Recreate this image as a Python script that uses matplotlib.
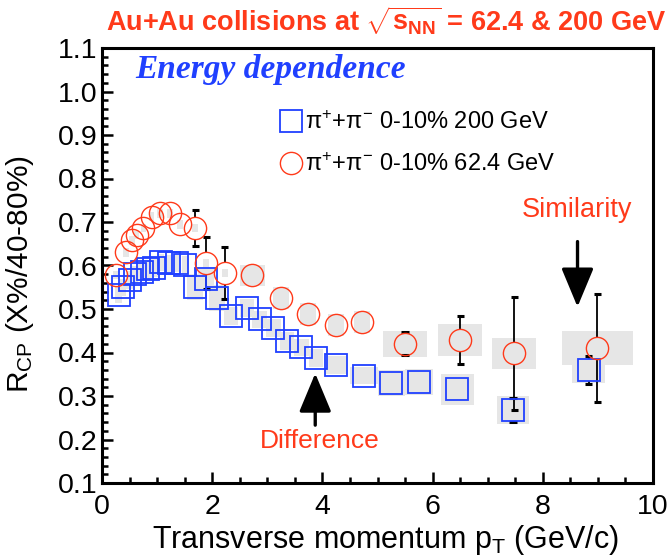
import matplotlib
matplotlib.use('Agg')
import matplotlib.pyplot as plt
from matplotlib.ticker import MultipleLocator, FormatStrFormatter
import numpy as np

plt.rcParams['font.family'] = ['Liberation Sans', 'DejaVu Sans']
plt.rcParams['mathtext.fontset'] = 'custom'
plt.rcParams['mathtext.rm'] = 'Liberation Sans'
plt.rcParams['mathtext.it'] = 'Liberation Sans:italic'
plt.rcParams['mathtext.bf'] = 'Liberation Sans:bold'

# pi+ + pi-, 0-10% / 40-80%, 200 GeV
pt_200 = [0.30, 0.38, 0.50, 0.60, 0.72, 0.84, 0.95, 1.07, 1.21, 1.36, 1.51, 1.69, 1.89, 2.09,
          2.34, 2.63, 2.86, 3.11, 3.36, 3.62, 3.88, 4.25, 4.75, 5.25, 5.75, 6.45, 7.46, 8.83]
rcp_200 = [0.533, 0.550, 0.567, 0.580, 0.585, 0.591, 0.594, 0.607, 0.605, 0.605, 0.601, 0.551, 0.568, 0.525,
           0.484, 0.502, 0.476, 0.456, 0.426, 0.412, 0.387, 0.371, 0.347, 0.329, 0.333, 0.315, 0.268, 0.360]
stat_200 = [0]*26 + [0.027, 0.033]
sys_200 = [0.02]*11 + [0.03, 0.025, 0.03, 0.02, 0.02, 0.02, 0.02, 0.02, 0.02, 0.02,
                       0.02, 0.02, 0.03, 0.03, 0.035, 0.033, 0.03]
binw_200 = [0.06]*11 + [0.15, 0.15, 0.15, 0.13, 0.13, 0.13, 0.13, 0.13, 0.13, 0.13,
                        0.2, 0.25, 0.25, 0.25, 0.3, 0.29, 0.3]

# pi+ + pi-, 0-10% / 40-80%, 62.4 GeV
pt_62 = [0.25, 0.44, 0.54, 0.63, 0.75, 0.90, 1.05, 1.23, 1.42, 1.69, 1.89, 2.23, 2.73,
         3.25, 3.74, 4.25, 4.72, 5.50, 6.50, 7.48, 8.99]
rcp_62 = [0.578, 0.630, 0.658, 0.670, 0.686, 0.712, 0.720, 0.720, 0.695, 0.686, 0.606, 0.583, 0.578,
          0.526, 0.489, 0.464, 0.470, 0.420, 0.428, 0.398, 0.410]
stat_62 = [0, 0, 0, 0, 0, 0, 0, 0, 0, 0.041, 0.060, 0.059, 0,
           0, 0, 0, 0, 0.026, 0.055, 0.130, 0.124]
sys_62 = [0.01]*12 + [0.024, 0.025, 0.025, 0.025, 0.025, 0.03, 0.037, 0.036, 0.039]
binw_62 = [0.05]*12 + [0.22, 0.15, 0.15, 0.15, 0.15, 0.4, 0.4, 0.4, 0.65]

blue = '#2040ff'
red = '#ff3a1a'
grey = '#e6e6e6'

fig = plt.figure(figsize=(6.71, 5.56), dpi=100)
ax = fig.add_axes([102/671, 1-483/556, 551/671, 435/556])

# systematic boxes
for x, y, s, w in [(pt_200, rcp_200, sys_200, binw_200), (pt_62, rcp_62, sys_62, binw_62)]:
    x = np.array(x); y = np.array(y); s = np.array(s); w = np.array(w)
    ax.bar(x, 2*s, width=2*w, bottom=y-s, color=grey, lw=0, zorder=1)

# stat errors, drawn outside of the marker like ROOT does
gap = 0.025
cap = 0.065
for x, y, e in [(pt_200, rcp_200, stat_200), (pt_62, rcp_62, stat_62)]:
    x = np.array(x); y = np.array(y); e = np.array(e)
    m = e > 0
    long = e > gap
    ax.vlines(x[long], y[long]+gap, y[long]+e[long], color='k', lw=1.3, zorder=2)
    ax.vlines(x[long], y[long]-e[long], y[long]-gap, color='k', lw=1.3, zorder=2)
    ax.hlines(y[m]+e[m], x[m]-cap, x[m]+cap, color='k', lw=2.2, zorder=2)
    ax.hlines(y[m]-e[m], x[m]-cap, x[m]+cap, color='k', lw=2.2, zorder=2)

sq, = ax.plot(pt_200, rcp_200, ls='none', marker='s', ms=16, mfc='none', mec=blue, mew=1.3,
              zorder=3, label=r'π$^{+}$+π$^{-}$ 0-10% 200 GeV')
ci, = ax.plot(pt_62, rcp_62, ls='none', marker='o', ms=16, mfc='none', mec=red, mew=1.0,
              zorder=4, label=r'π$^{+}$+π$^{-}$ 0-10% 62.4 GeV')

ax.set_xlim(0, 10)
ax.set_ylim(0.1, 1.1)
ax.xaxis.set_major_locator(MultipleLocator(2))
ax.xaxis.set_minor_locator(MultipleLocator(0.5))
ax.yaxis.set_major_locator(MultipleLocator(0.1))
ax.yaxis.set_minor_locator(MultipleLocator(0.02))
ax.yaxis.set_major_formatter(FormatStrFormatter('%.1f'))
ax.tick_params(which='both', direction='in', top=False, right=False, width=1.8)
ax.tick_params(which='major', length=8, labelsize=20.5)
ax.tick_params(axis='x', which='major', pad=8)
ax.tick_params(axis='y', which='major', pad=3)
ax.tick_params(which='minor', length=4)
for sp in ax.spines.values():
    sp.set_linewidth(2.2)

ax.set_xlabel(r'Transverse momentum p$_\mathrm{T}$ (GeV/c)', fontsize=22)
ax.set_ylabel(r'R$_\mathrm{CP}$ (X%/40-80%)', fontsize=21.5)
ax.xaxis.set_label_coords(0.514, -0.092)
ax.yaxis.set_label_coords(-0.12, 0.48)

ax.legend(handles=[sq, ci], loc='center left', bbox_to_anchor=(0.321, 0.780), frameon=False,
          fontsize=17, handlelength=1.0, handletextpad=0.1, labelspacing=0.8,
          borderpad=0, borderaxespad=0)

ax.text(0.06, 0.95, 'Energy dependence', transform=ax.transAxes, color=blue,
        fontsize=24, fontweight='bold', style='italic', family='Liberation Serif', va='center')

ax.annotate('', xy=(8.63, 0.505), xytext=(8.63, 0.655),
            arrowprops=dict(arrowstyle='-|>,head_length=1.2,head_width=0.5', lw=2.4,
                            color='k', mutation_scale=20, shrinkA=0, shrinkB=0))
ax.text(8.62, 0.728, 'Similarity', color=red, fontsize=19.5, ha='center', va='center')
ax.annotate('', xy=(3.87, 0.352), xytext=(3.87, 0.233),
            arrowprops=dict(arrowstyle='-|>,head_length=1.2,head_width=0.5', lw=2.4,
                            color='k', mutation_scale=20, shrinkA=0, shrinkB=0))
ax.text(3.96, 0.197, 'Difference', color=red, fontsize=19, ha='center', va='center')

fig.text(0.576, 0.963, r'Au+Au collisions at $\sqrt{\mathbf{s}_{\mathbf{NN}}}$ = 62.4 & 200 GeV',
         color=red, fontsize=19.5, fontweight='bold', ha='center', va='center')

fig.savefig('out.png', dpi=100)
